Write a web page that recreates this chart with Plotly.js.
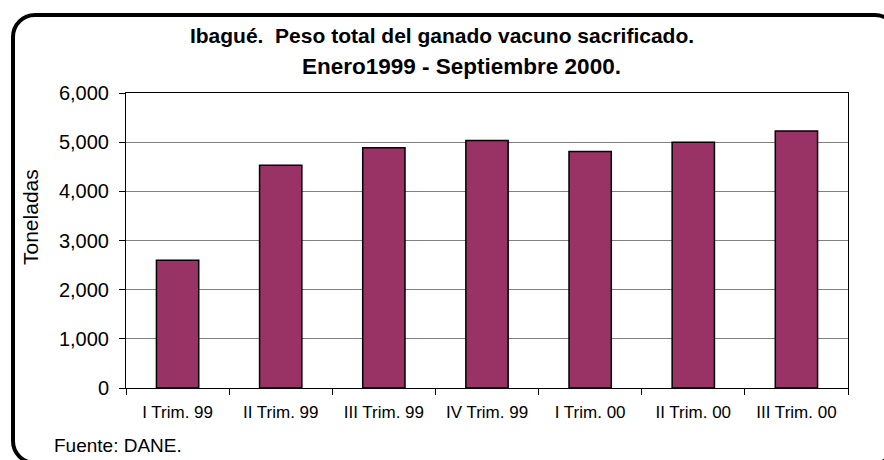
<!DOCTYPE html>
<html>
<head>
<meta charset="utf-8">
<script src="https://cdn.plot.ly/plotly-3.0.1.min.js"></script>
<style>
  html, body { margin: 0; padding: 0; background: #fff; overflow: hidden; }
  #wrap { position: relative; width: 884px; height: 460px; overflow: hidden; }
  #chart { position: absolute; left: 0; top: 0; width: 884px; height: 460px; }
  #frame { position: absolute; left: 11px; top: 13px; width: 888px; height: 452px;
           box-sizing: border-box; border: 4px solid #000; border-radius: 24px; pointer-events: none; }
</style>
</head>
<body>
<div id="wrap">
  <div id="chart"></div>
  <div id="frame"></div>
</div>
<script>
const categories = ["I Trim. 99", "II Trim. 99", "III Trim. 99", "IV Trim. 99", "I Trim. 00", "II Trim. 00", "III Trim. 00"];
const toneladas = [2600, 4530, 4885, 5035, 4810, 5000, 5225];
const titleLine1 = "Ibagué.  Peso total del ganado vacuno sacrificado.";
const titleLine2 = "Enero1999 - Septiembre 2000.";
const yTitle = "Toneladas";
const sourceNote = "Fuente: DANE.";

const W = 884, H = 460;
const M = {l: 126, r: 36, t: 93, b: 72};
const plotH = H - M.t - M.b;
const plotW = W - M.l - M.r;
function py(px) { return (H - M.b - px) / plotH; }
function px(x) { return (x - M.l) / plotW; }

const font = "Arial, 'Liberation Sans', sans-serif";

const data = [{
  type: "bar",
  x: categories,
  y: toneladas,
  marker: { color: "#993366", line: { color: "#000", width: 1.5 } },
  width: 0.41,
  hoverinfo: "x+y"
}];

const layout = {
  width: W, height: H,
  margin: M,
  paper_bgcolor: "#fff",
  plot_bgcolor: "#fff",
  showlegend: false,
  font: { family: font, color: "#000", size: 18 },
  title: {
    text: "<b>" + titleLine1 + "</b>",
    x: 0.5, xref: "container", xanchor: "center",
    y: 1 - 36 / H, yref: "container", yanchor: "middle",
    font: { family: font, size: 21, color: "#000" }
  },
  xaxis: {
    type: "category",
    showgrid: false,
    showline: true, linecolor: "#000", linewidth: 1,
    mirror: true,
    ticks: "outside", tickson: "boundaries", ticklen: 6, tickcolor: "#000", tickwidth: 1,
    tickfont: { family: font, size: 17, color: "#000" },
    ticklabelstandoff: 9,
    fixedrange: true
  },
  yaxis: {
    range: [0, 6000],
    dtick: 1000,
    tick0: 0,
    tickformat: ",d",
    showgrid: true, gridcolor: "#808080", gridwidth: 1,
    zeroline: false,
    showline: true, linecolor: "#000", linewidth: 1,
    mirror: true,
    ticks: "outside", ticklen: 6, tickcolor: "#000", tickwidth: 1,
    tickfont: { family: font, size: 20, color: "#000" },
    ticklabelstandoff: 6,
    fixedrange: true
  },
  annotations: [
    {
      text: "<b>" + titleLine2 + "</b>",
      xref: "paper", yref: "paper",
      x: px(461), y: py(66), xanchor: "center", yanchor: "middle",
      showarrow: false,
      font: { family: font, size: 22.5, color: "#000" }
    },
    {
      text: yTitle,
      xref: "paper", yref: "paper",
      x: px(30), y: py(217), xanchor: "center", yanchor: "middle",
      textangle: -90,
      showarrow: false,
      font: { family: font, size: 21, color: "#000" }
    },
    {
      text: sourceNote,
      xref: "paper", yref: "paper",
      x: px(52), y: py(445), xanchor: "left", yanchor: "middle",
      showarrow: false,
      font: { family: font, size: 19, color: "#000" }
    }
  ]
};

Plotly.newPlot("chart", data, layout, { displayModeBar: false, staticPlot: true });
</script>
</body>
</html>
